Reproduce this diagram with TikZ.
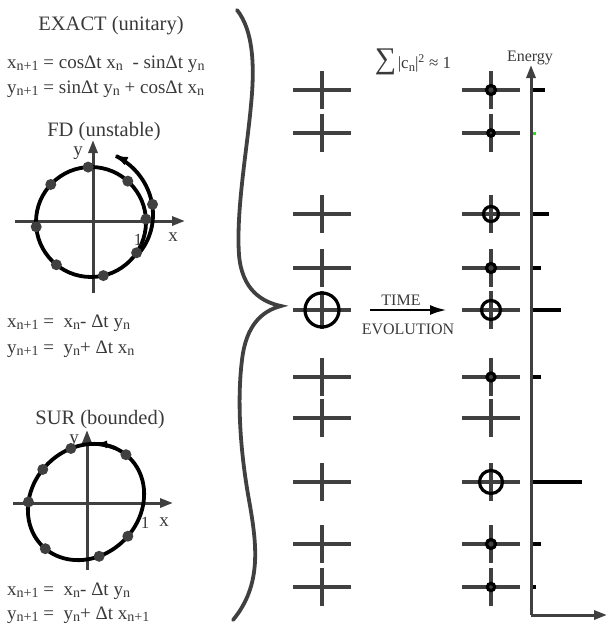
\documentclass[tikz,border=0pt]{standalone}
\usepackage{fontspec}
\usepackage{graphicx}
\setmainfont{Liberation Serif}
\usetikzlibrary{arrows.meta}
\definecolor{axisgray}{HTML}{404040}
\definecolor{txtgray}{HTML}{3A3A3A}
\definecolor{markgreen}{HTML}{22DD22}
\newcommand{\lowsub}[1]{\raisebox{-0.32ex}{\scalebox{0.74}{#1}}}

\begin{document}
\begin{tikzpicture}[x=1pt,y=-1pt,
    axis/.style={draw=axisgray,line width=3pt,
      -{Triangle[length=13pt,width=9pt]}},
    orbit/.style={draw=black,line width=3.8pt},
    dot/.style={fill=axisgray},
    lbl/.style={text=txtgray,inner sep=0pt,
      font=\fontsize{19}{19}\selectfont},
    ttl/.style={lbl,anchor=base,font=\fontsize{20.5}{20.5}\selectfont},
    eqn/.style={lbl,anchor=base west},
    small/.style={text=txtgray,inner sep=0pt,
      font=\fontsize{16}{16}\selectfont},
    crossarm/.style={draw=axisgray,line width=3.2pt},
    ring/.style={draw=black,line width=3.2pt},
    bar/.style={draw=black,line width=4pt},
    brace/.style={draw=axisgray,line width=3.8pt,line cap=round},
  ]
  \useasboundingbox (0,0) rectangle (609,624);

  % exact scheme
  \node[ttl] (exacttitle) at (111,30) {EXACT (unitary)};
  \node[eqn] (exactx) at (7,68)
    {x\lowsub{n+1} = cosΔt x\lowsub{n} \ - sinΔt y\lowsub{n}};
  \node[eqn] (exacty) at (7,93)
    {y\lowsub{n+1} = sinΔt y\lowsub{n} + cosΔt x\lowsub{n}};

  % FD scheme
  \node[ttl] (fdtitle) at (104,136) {FD (unstable)};
  \draw[axis] (15,221) -- (185,221);
  \draw[axis] (93,293) -- (93,140);
  \draw[orbit] (91,222) circle[radius=55pt];
  \draw[orbit,-{Latex[length=15pt,width=9pt]}]
    plot[domain=-35:72,samples=40]
    ({91+(57+0.13*(\x+35))*cos(\x)},{222-(57+0.13*(\x+35))*sin(\x)});
  \foreach \a in {3,48,93,137,185,231,283,326}
    \fill[dot] ({91+55*cos(\a)},{222-55*sin(\a)}) circle[radius=5.5pt];
  \fill[dot] ({91+64*cos(16)},{222-64*sin(16)}) circle[radius=5.5pt];
  \node[lbl] (fdy) at (78,153) {y};
  \node[lbl,font=\fontsize{17}{17}\selectfont] (fdone) at (138,240) {1};
  \node[lbl] (fdx) at (173,237) {x};
  \node[eqn] (fdxeq) at (7,327)
    {x\lowsub{n+1} = \ x\lowsub{n}- Δt y\lowsub{n}};
  \node[eqn] (fdyeq) at (7,353)
    {y\lowsub{n+1} = \ y\lowsub{n}+ Δt x\lowsub{n}};

  % SUR scheme
  \node[ttl] (surtitle) at (100,424) {SUR (bounded)};
  \draw[axis] (13,503) -- (173,503);
  \draw[axis] (87,570) -- (87,430);
  \draw[orbit] plot[domain=0:360,samples=90,smooth cycle]
    ({86+(62*cos(\x)-54*sin(\x))*0.7071},{502-(62*cos(\x)+54*sin(\x))*0.7071});
  \draw[orbit,-{Latex[length=12pt,width=8pt]}] plot[domain=18:40,samples=10]
    ({86+(62*cos(\x)-54*sin(\x))*0.7071},{502-(62*cos(\x)+54*sin(\x))*0.7071});
  \foreach \t in {5.5,64,97,131,184.5,242,275}
    \fill[dot] ({86+(62*cos(\t)-54*sin(\t))*0.7071},
      {502-(62*cos(\t)+54*sin(\t))*0.7071}) circle[radius=5.5pt];
  \node[lbl] (sury) at (74,441) {y};
  \node[lbl,font=\fontsize{17}{17}\selectfont] (surone) at (145,523) {1};
  \node[lbl] (surx) at (164,522) {x};
  \node[eqn] (surxeq) at (7,595)
    {x\lowsub{n+1} = \ x\lowsub{n}- Δt y\lowsub{n}};
  \node[eqn] (suryeq) at (7,619)
    {y\lowsub{n+1} = \ y\lowsub{n}+ Δt x\lowsub{n+1}};

  % brace
  \draw[brace] (237,10) .. controls (253,30) and (255,65) .. (251,105)
    .. controls (247,150) and (236,210) .. (239,255)
    .. controls (242,290) and (262,302) .. (281,306)
    .. controls (262,311) and (246,325) .. (242,360)
    .. controls (237,400) and (240,450) .. (249,500)
    .. controls (257,545) and (262,585) .. (233,620);

  % level crosses
  \foreach \yy in {90,133,214,268,310,377,418,482,544,587} {
    \draw[crossarm] (293,\yy) -- (351,\yy) (322,\yy-19) -- (322,\yy+19);
    \draw[crossarm] (462,\yy) -- (520,\yy) (491,\yy-19) -- (491,\yy+19);
  }
  \draw[ring] (322,310) circle[radius=17pt];
  \foreach \yy/\r in {90/4.5,133/3.2,214/7.5,268/4.5,310/9.5,377/4,
      482/11.5,544/4.5,587/3.6}
    \draw[ring] (491,\yy) circle[radius=\r pt];

  % time evolution
  \coordinate (tstart) at (370,310);
  \coordinate (tend) at (447,310);
  \draw[black,line width=2.8pt,-{Latex[length=17pt,width=10pt]}]
    (tstart) -- (tend);
  \node[small] (timelbl) at (401,300) {TIME};
  \node[small] (evollbl) at (408,329) {EVOLUTION};
  \node[text=txtgray,inner sep=0pt] (normlbl) at (413,62)
    {{\fontsize{30}{30}\selectfont ∑}\,{\fontsize{17}{17}\selectfont
      |c\lowsub{n}|\textsuperscript{2} ≈ 1}};

  % energy spectrum
  \coordinate (origin) at (531,615);
  \draw[axis] (origin) -- (531,65);
  \draw[axis] (origin) -- (607,615);
  \node[small] (energylbl) at (530,58) {Energy};
  \foreach \yy/\xe in {90/545,214/549,268/541,310/561,377/541,
      482/582,544/541,587/536}
    \draw[bar] (533,\yy) -- (\xe,\yy);
  \draw[draw=markgreen,line width=3pt] (533,133) -- (536,133);
\end{tikzpicture}
\end{document}
